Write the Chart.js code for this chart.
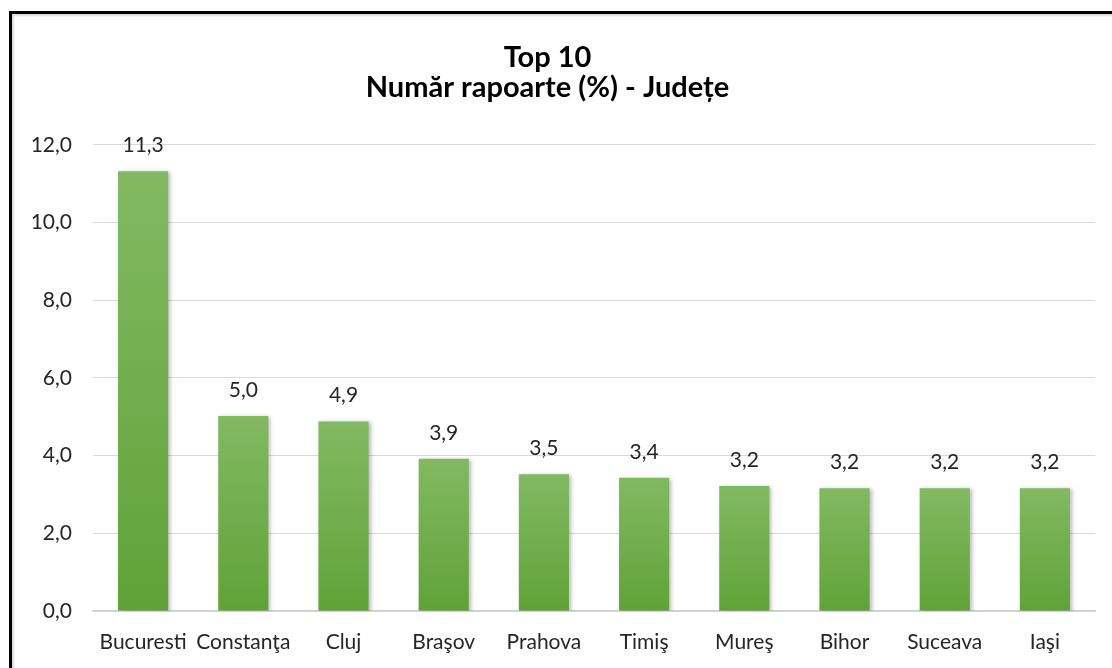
<!DOCTYPE html>
<html lang="ro">
  <head>
    <meta charset="UTF-8" />
    <title>Top 10 - Număr rapoarte (%) - Județe</title>
    <script src="https://cdn.jsdelivr.net/npm/chart.js"></script>
    <style>
      html,
      body {
        margin: 0;
        padding: 0;
        background: #fff;
        overflow: hidden;
      }
      .wrap {
        position: relative;
        width: 1112px;
        height: 668px;
      }
      /* cropped frame of the original chart box */
      .frame {
        position: absolute;
        left: 9px;
        top: 11px;
        width: 1200px;
        height: 800px;
        border-top: 3px solid #000;
        border-left: 3px solid #000;
        box-shadow: inset 2px 2px 2px rgba(0, 0, 0, 0.15);
      }
      canvas {
        position: absolute;
        left: 0;
        top: 0;
      }
    </style>
  </head>
  <body>
    <div class="wrap">
      <div class="frame"></div>
      <canvas id="chart" width="1112" height="668"></canvas>
    </div>

    <script>
      // data
      const judete = [
        'Bucuresti',
        'Constanţa',
        'Cluj',
        'Braşov',
        'Prahova',
        'Timiş',
        'Mureş',
        'Bihor',
        'Suceava',
        'Iaşi',
      ];
      const procente = [11.32, 5.02, 4.88, 3.92, 3.52, 3.43, 3.22, 3.16, 3.16, 3.16];
      const yTicks = [0, 2, 4, 6, 8, 10, 12];

      const FONT = 'Lato, "Open Sans", sans-serif';
      const fmt = (v) => v.toFixed(1).replace('.', ',');

      // gradient per bar, lighter on top
      function barFill(context) {
        const chart = context.chart;
        const area = chart.chartArea;
        if (!area) return '#6fad47';
        const y = chart.scales.y;
        const top = y.getPixelForValue(context.raw);
        const bottom = y.getPixelForValue(0);
        const g = chart.ctx.createLinearGradient(0, top, 0, bottom);
        g.addColorStop(0, '#82b962');
        g.addColorStop(1, '#60a237');
        return g;
      }

      // soft shadow on bars + value labels above them
      const barExtras = {
        id: 'barExtras',
        beforeDatasetDraw(chart) {
          const ctx = chart.ctx;
          ctx.save();
          ctx.shadowColor = 'rgba(0,0,0,0.28)';
          ctx.shadowBlur = 4;
          ctx.shadowOffsetX = 2;
          ctx.shadowOffsetY = 1;
        },
        afterDatasetDraw(chart) {
          chart.ctx.restore();
        },
        afterDatasetsDraw(chart) {
          const ctx = chart.ctx;
          const meta = chart.getDatasetMeta(0);
          ctx.save();
          ctx.font = '21px ' + FONT;
          ctx.fillStyle = '#262626';
          ctx.textAlign = 'center';
          ctx.textBaseline = 'middle';
          meta.data.forEach((bar, i) => {
            ctx.fillText(fmt(procente[i]), bar.x, bar.y - 26);
          });
          ctx.restore();
        },
      };

      new Chart(document.getElementById('chart'), {
        type: 'bar',
        data: {
          labels: judete,
          datasets: [
            {
              data: procente,
              backgroundColor: barFill,
              borderWidth: 0,
              barPercentage: 0.5,
              categoryPercentage: 1,
            },
          ],
        },
        options: {
          responsive: false,
          animation: false,
          layout: { padding: { left: 0, right: 17, top: 0, bottom: 0 } },
          plugins: {
            legend: { display: false },
            tooltip: { enabled: false },
            title: {
              display: true,
              text: ['Top 10', 'Număr rapoarte (%) - Județe'],
              color: '#000',
              font: { family: FONT, size: 29, weight: 'bold', lineHeight: 1.05 },
              padding: { top: 42, bottom: 42 },
            },
          },
          scales: {
            x: {
              grid: { display: false, drawTicks: false },
              border: { color: '#d0d0d0', width: 1.5 },
              ticks: {
                color: '#262626',
                font: { family: FONT, size: 21 },
                padding: 19,
                maxRotation: 0,
                autoSkip: false,
              },
              afterFit(scale) {
                scale.height = 57;
              },
            },
            y: {
              min: 0,
              max: yTicks[yTicks.length - 1],
              afterBuildTicks(scale) {
                scale.ticks = yTicks.map((v) => ({ value: v }));
              },
              grid: { color: '#d9d9d9', drawTicks: false },
              border: { display: false },
              ticks: {
                color: '#262626',
                font: { family: FONT, size: 21 },
                padding: 21,
                callback: (v) => fmt(v),
              },
              afterFit(scale) {
                scale.width = 93;
              },
            },
          },
        },
        plugins: [barExtras],
      });
    </script>
  </body>
</html>
